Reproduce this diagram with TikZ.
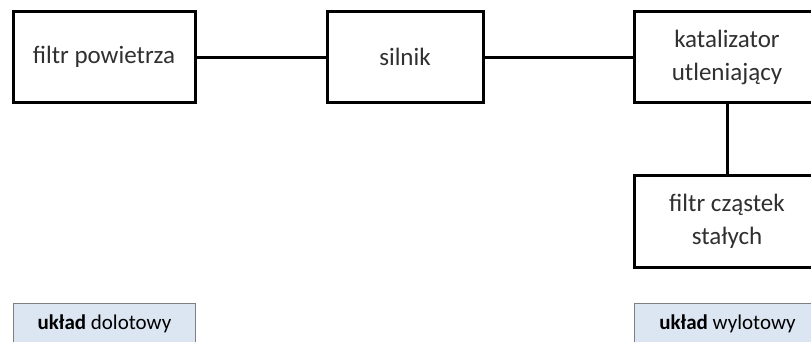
\documentclass[tikz,border=0pt]{standalone}
\usepackage{fontspec}
\setmainfont{Carlito}
\definecolor{tagfill}{HTML}{DCE6F2}
\definecolor{tagline}{HTML}{7F7F7F}
\definecolor{inktext}{HTML}{303030}
\begin{document}
\begin{tikzpicture}[x=1pt,y=-1pt,
  block/.style={draw=black, line width=3pt, fill=white, align=center,
    font=\fontsize{25}{33}\selectfont, text=inktext},
  tag/.style={draw=tagline, line width=1pt, fill=tagfill,
    font=\fontsize{21}{26}\selectfont, text=black},
  link/.style={line width=3pt}]
\useasboundingbox (0,0) rectangle (811,341);
\begin{scope}
\clip (0,0) rectangle (811,341);
% processing blocks
\node[block, minimum width=182pt, minimum height=91pt] (air) at (104,57) {filtr powietrza};
\node[block, minimum width=156pt, minimum height=91pt] (eng) at (405,57) {silnik};
\node[block, minimum width=186pt, minimum height=91pt] (cat) at (727,57) {katalizator\\utleniający};
\node[block, minimum width=186pt, minimum height=92pt] (dpf) at (727,221) {filtr cząstek\\stałych};
% connections
\draw[link] (air.east) -- (eng.west);
\draw[link] (eng.east) -- (cat.west);
\draw[link] (cat.south) -- (dpf.north);
% section captions
\node[tag, minimum width=182pt, minimum height=40pt, anchor=north west] (inlet) at (13,303) {\textbf{układ} dolotowy};
\node[tag, minimum width=186pt, minimum height=40pt, anchor=north west] (outlet) at (634,303) {\textbf{układ} wylotowy};
\end{scope}
\end{tikzpicture}
\end{document}
